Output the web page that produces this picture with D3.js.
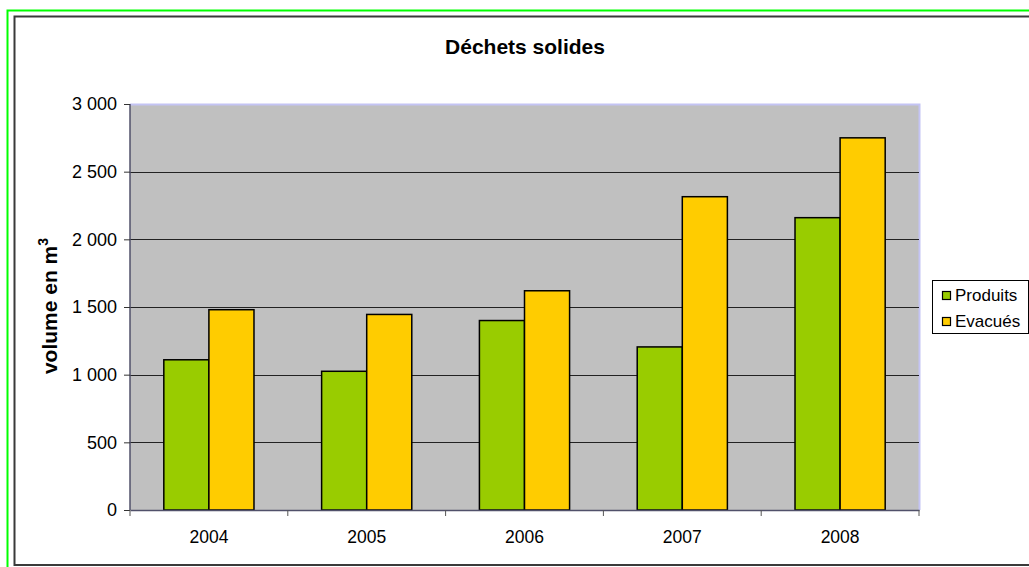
<!DOCTYPE html>
<html><head><meta charset="utf-8">
<script src="https://cdn.jsdelivr.net/npm/d3@7/dist/d3.min.js"></script>
<style>body{margin:0;background:#fff;}svg{display:block;font-family:"Liberation Sans",Arial,sans-serif;}</style>
</head><body>
<svg id="c" width="1029" height="567"></svg>
<script>
const years = ["2004","2005","2006","2007","2008"];
const seriesNames = ["Produits","Evacués"];
const produits = [1110, 1025, 1400, 1205, 2160];
const evacues = [1480, 1445, 1620, 2315, 2750];
const yTicks = [0,500,1000,1500,2000,2500,3000];
const colors = ["#99cc00","#ffcc00"];
const title = "Déchets solides";

const FONT = "Liberation Sans, Arial, sans-serif";
const svg = d3.select("#c");
// outer borders
svg.append("rect").attr("x",7.5).attr("y",10.5).attr("width",1040).attr("height",570)
  .attr("fill","none").attr("stroke","#00ff00").attr("stroke-width",2);
svg.append("rect").attr("x",14.5).attr("y",16.5).attr("width",1030).attr("height",548.5)
  .attr("fill","#fff").attr("stroke","#3a3a3a").attr("stroke-width",2);

const L=130,R=919,T=104,B=510;
const x0 = d3.scaleBand().domain(years).range([L,R]).paddingInner(0).paddingOuter(0);
const y = d3.scaleLinear().domain([0,3000]).range([B,T]);
const bw = x0.bandwidth()/(2+1.5);
const x1 = d3.scaleBand().domain(seriesNames).range([0.75*bw, 2.75*bw]).padding(0);

svg.append("rect").attr("x",L).attr("y",T).attr("width",R-L).attr("height",B-T).attr("fill","#c0c0c0");
// plot border top/right
svg.append("path").attr("d",`M${L},${T+0.5}H${R+0.5}V${B}`).attr("fill","none").attr("stroke","#c4c4f4").attr("stroke-width",2);

// gridlines
svg.append("g").selectAll("line").data(yTicks.filter(t=>t>0&&t<3000)).join("line")
  .attr("x1",L).attr("x2",R).attr("y1",d=>Math.round(y(d))+0.5).attr("y2",d=>Math.round(y(d))+0.5)
  .attr("stroke","#222").attr("stroke-width",1);

// bars
const data = years.map((yr,i)=>({yr, vals:[produits[i],evacues[i]]}));
const g = svg.append("g");
data.forEach(d=>{
  d.vals.forEach((v,j)=>{
    g.append("rect").attr("x",x0(d.yr)+x1(seriesNames[j])).attr("y",y(v))
      .attr("width",x1.bandwidth()).attr("height",B-y(v))
      .attr("fill",colors[j]).attr("stroke","#000").attr("stroke-width",1.5);
  });
});

// y axis
const ya = svg.append("g").attr("transform",`translate(${L},0)`)
  .call(d3.axisLeft(y).tickValues(yTicks).tickSize(6).tickPadding(7)
    .tickFormat(d=>d3.format(",")(d).replace(",", " ")));
ya.attr("font-size",18).attr("font-family",FONT);
ya.select(".domain").attr("stroke","#50506a").attr("stroke-width",1.5).attr("d",`M0,${T}V${B}`);
ya.selectAll(".tick line").attr("stroke","#333");
ya.selectAll("text").attr("fill","#000");

// x axis
const xa = svg.append("g").attr("transform",`translate(0,${B})`)
  .call(d3.axisBottom(x0).tickSize(0).tickPadding(21));
xa.attr("font-size",17.5).attr("font-family",FONT);
xa.select(".domain").attr("stroke","#50506a").attr("stroke-width",1.5);
xa.selectAll("text").attr("fill","#000");
svg.append("g").selectAll("line").data(years.concat(["end"])).join("line")
  .attr("x1",(d,i)=>L+i*x0.step()).attr("x2",(d,i)=>L+i*x0.step())
  .attr("y1",B).attr("y2",B+6).attr("stroke","#555").attr("stroke-width",1);

// title
svg.append("text").attr("x",525).attr("y",54).attr("text-anchor","middle")
  .attr("font-size",21).attr("font-weight","bold").text(title);

// y label
const yl = svg.append("text").attr("transform","translate(57,306) rotate(-90)")
  .attr("text-anchor","middle").attr("font-size",21).attr("font-weight","bold");
yl.append("tspan").text("volume en m");
yl.append("tspan").attr("font-size",14).attr("dy",-9).text("3");

// legend
const lg = svg.append("g");
lg.append("rect").attr("x",932.5).attr("y",280.5).attr("width",96).attr("height",53).attr("fill","#fff").attr("stroke","#000");
seriesNames.forEach((s,i)=>{
  lg.append("rect").attr("x",942.5).attr("y",291.5+i*26).attr("width",8).attr("height",8)
    .attr("fill",colors[i]).attr("stroke","#000").attr("stroke-width",1.2);
  lg.append("text").attr("x",955).attr("y",301+i*26).attr("font-size",17).text(s);
});
</script>
</body></html>
